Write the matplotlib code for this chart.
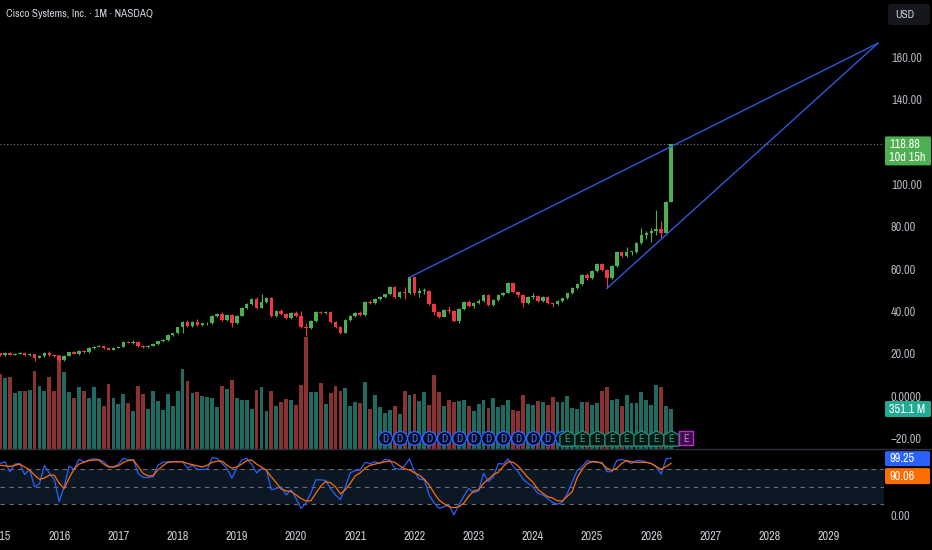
import matplotlib
matplotlib.use("Agg")
import matplotlib.pyplot as plt
from matplotlib.transforms import IdentityTransform, blended_transform_factory
from matplotlib.patches import FancyBboxPatch
from matplotlib.lines import Line2D
from matplotlib.path import Path

plt.rcParams['font.family'] = ['Liberation Sans Narrow', 'Archivo Narrow', 'Asap Condensed',
                               'Liberation Sans', 'DejaVu Sans']

# ---- data (month index 0 = Jan 2015) ----
months = list(range(0, 137))
first_open = 20.2
closes = [19.4,
          20.3, 19.5, 20.0, 20.4, 19.4, 19.8, 18.0, 18.9, 20.5, 19.2, 18.7, 17.0,
          19.0, 20.7, 20.1, 21.3, 20.6, 22.7, 23.3, 23.5, 22.8, 22.0, 22.8, 23.2,
          25.7, 25.3, 25.6, 23.5, 23.0, 23.8, 24.5, 25.8, 26.4, 28.8, 29.6, 32.4,
          35.1, 33.1, 35.1, 33.4, 34.3, 34.5, 37.8, 38.7, 35.9, 38.3, 34.3, 37.9,
          41.6, 43.5, 45.7, 41.7, 44.4, 46.1, 37.8, 40.3, 38.7, 36.7, 39.4, 37.8,
          32.4, 32.2, 35.6, 39.8, 39.4, 39.6, 35.1, 32.7, 29.9, 35.9, 37.8, 39.1,
          38.3, 44.6, 43.8, 45.7, 46.9, 48.0, 51.6, 46.9, 49.3, 48.6, 56.1, 48.5,
          49.5, 49.8, 43.3, 39.8, 37.5, 40.6, 40.3, 35.4, 40.9, 44.6, 42.6, 43.8,
          45.0, 47.7, 43.0, 45.3, 47.7, 48.8, 53.2, 49.3, 47.7, 43.8, 46.9, 47.2,
          45.0, 46.9, 44.1, 43.6, 45.0, 46.1, 48.5, 50.9, 52.9, 57.2, 55.6, 59.0,
          62.2, 59.5, 55.6, 61.4, 67.9, 66.1, 67.9, 68.2, 72.1, 76.1, 76.8, 78.1,
          78.9, 77.1, 91.8, 118.88]
highs = [20.5,
         20.8, 20.6, 20.4, 20.9, 20.6, 20.3, 20.0, 19.3, 21.0, 21.3, 19.6, 18.9,
         19.4, 21.0, 21.1, 21.6, 21.8, 23.0, 23.7, 24.0, 23.8, 23.1, 23.2, 23.6,
         26.0, 26.2, 26.5, 26.2, 23.9, 24.2, 24.9, 26.1, 26.8, 29.1, 30.0, 32.8,
         35.6, 36.0, 35.5, 36.2, 34.7, 35.0, 38.3, 39.3, 39.5, 38.8, 38.9, 38.3,
         42.0, 43.9, 46.3, 46.6, 48.1, 47.0, 46.6, 40.7, 41.0, 39.2, 39.8, 40.0,
         40.2, 34.3, 36.1, 40.3, 40.4, 40.1, 40.0, 35.6, 33.1, 36.3, 38.3, 39.6,
         40.3, 45.0, 45.2, 46.1, 47.3, 48.4, 52.0, 52.2, 49.8, 51.3, 56.1, 56.6,
         50.9, 51.0, 50.2, 43.8, 40.3, 41.0, 42.6, 40.8, 41.4, 45.0, 45.4, 44.5,
         45.8, 48.2, 48.2, 45.8, 48.1, 49.3, 53.8, 53.5, 49.8, 48.2, 47.3, 48.9,
         47.8, 47.3, 47.3, 44.6, 45.4, 46.5, 48.9, 51.3, 53.3, 57.7, 58.0, 59.5,
         62.7, 63.0, 60.0, 62.0, 68.4, 68.3, 70.4, 68.7, 73.0, 79.3, 78.2, 79.2,
         87.9, 82.8, 92.2, 119.0]
lows = [19.0,
        19.1, 19.2, 19.3, 19.8, 19.1, 19.0, 16.8, 17.8, 18.6, 18.9, 18.4, 16.2,
        16.5, 18.8, 19.8, 19.4, 20.3, 20.4, 22.3, 23.0, 22.4, 21.7, 21.6, 22.5,
        23.0, 25.0, 24.6, 23.0, 22.6, 22.7, 23.6, 24.3, 25.5, 26.2, 28.4, 29.4,
        29.8, 32.6, 32.5, 33.0, 33.0, 33.6, 34.2, 37.3, 35.4, 35.3, 32.4, 34.0,
        37.6, 41.2, 43.1, 41.3, 41.4, 44.0, 37.3, 37.2, 38.2, 36.3, 36.4, 37.4,
        32.0, 28.6, 31.8, 35.0, 38.6, 38.7, 34.6, 32.3, 29.5, 29.8, 35.4, 37.4,
        37.8, 38.0, 43.3, 43.4, 45.3, 46.5, 47.7, 46.5, 46.5, 46.0, 48.3, 47.9,
        47.0, 48.3, 42.8, 38.1, 37.0, 37.2, 39.4, 34.8, 34.5, 40.5, 42.2, 41.8,
        43.3, 44.6, 42.5, 42.6, 45.0, 47.2, 48.5, 48.6, 47.0, 42.0, 43.4, 46.0,
        44.6, 44.5, 43.7, 42.0, 43.2, 44.6, 45.7, 48.1, 50.5, 52.5, 55.0, 55.3,
        58.6, 59.0, 50.9, 55.2, 61.0, 65.6, 65.5, 66.8, 67.8, 72.0, 74.0, 72.8,
        76.2, 74.9, 76.8, 91.5]
volumes_m = [658,
             621, 630, 492, 512, 509, 521, 687, 556, 512, 630, 507, 825,
             679, 498, 445, 542, 507, 445, 547, 445, 375, 571, 445, 395,
             480, 407, 331, 551, 483, 351, 512, 419, 342, 483, 380, 507,
             702, 597, 494, 503, 468, 454, 445, 371, 551, 527, 608, 445,
             430, 433, 351, 518, 542, 331, 512, 380, 410, 439, 430, 386,
             565, 983, 498, 498, 577, 395, 489, 556, 512, 533, 380, 410,
             404, 586, 351, 474, 366, 316, 345, 375, 305, 512, 474, 483,
             424, 503, 389, 650, 498, 375, 433, 410, 424, 430, 380, 336,
             395, 430, 357, 448, 366, 386, 430, 345, 336, 474, 395, 386,
             424, 410, 389, 454, 410, 410, 463, 357, 351, 415, 415, 386,
             401, 507, 547, 433, 439, 380, 474, 404, 404, 498, 430, 386,
             562, 542, 375, 351.1]
stoch_k = [90,
           93, 76, 89, 90, 71, 80, 50, 55, 87, 73, 63, 25,
           50, 86, 80, 97, 93, 96, 98, 97, 93, 85, 84, 89,
           99, 96, 97, 73, 66, 66, 67, 87, 92, 93, 93, 93,
           93, 82, 87, 80, 80, 80, 100, 99, 90, 82, 65, 82,
           96, 99, 89, 74, 81, 79, 45, 47, 50, 36, 45, 30,
           13, 22, 39, 62, 62, 61, 47, 36, 28, 50, 74, 78,
           79, 92, 90, 93, 90, 97, 96, 82, 80, 86, 98, 76,
           63, 62, 36, 22, 13, 16, 19, 2, 19, 34, 47, 40,
           43, 73, 59, 67, 90, 89, 98, 85, 76, 63, 56, 50,
           39, 36, 30, 23, 20, 24, 39, 59, 78, 85, 95, 93,
           92, 92, 76, 76, 95, 97, 94, 90, 95, 95, 92, 90,
           84, 72, 98, 99.25]
stoch_d = [87,
           86, 85, 87, 89, 84, 79, 70, 63, 65, 70, 70, 56,
           47, 65, 80, 89, 92, 95, 96, 96, 89, 84, 84, 86,
           92, 95, 96, 85, 73, 69, 69, 79, 86, 92, 93, 93,
           93, 90, 88, 86, 84, 87, 92, 94, 94, 87, 82, 84,
           89, 95, 96, 89, 84, 78, 67, 57, 46, 43, 42, 36,
           30, 26, 26, 39, 51, 59, 57, 50, 38, 45, 56, 69,
           74, 82, 87, 89, 91, 93, 94, 92, 86, 81, 79, 74,
           70, 63, 53, 39, 27, 21, 16, 14, 16, 22, 34, 43,
           45, 56, 63, 71, 75, 85, 93, 92, 86, 76, 66, 58,
           46, 39, 33, 31, 26, 26, 34, 42, 66, 80, 90, 93,
           93, 90, 82, 78, 82, 90, 95, 93, 92, 92, 92, 90,
           85, 80, 85, 90.06]
years = list(range(2015, 2030))
price_ticks = [160, 140, 100, 80, 60, 40, 20, 0, -20]
price_tick_labels = ['160.00', '140.00', '100.00', '80.00', '60.00', '40.00', '20.00', '0.0000', '\u221220.00']
dividend_months = [78, 81, 84, 87, 90, 93, 96, 99, 102, 105, 108, 111, 114]
earnings_months = [115, 118, 121, 124, 127, 130, 133, 136]
next_earnings_months = [139]
trend_upper = ([83, 177.95], [56.1, 166.7])
trend_lower = ([123, 177.95], [50.9, 166.7])
countdown = '10d 15h'

# ---- layout (pixels) ----
W, H = 932, 550
PLOT_R = 884
MAIN_BOT = 449
IND_BOT = 527
PX_PER_M = 4.934
TXT = '#b2b5be'
FS = 8.8
UP, DOWN = '#4caf50', '#f23645'
VUP, VDOWN = '#1f6b61', '#8a3232'

fig = plt.figure(figsize=(W / 100, H / 100), dpi=100, facecolor='black')
ax = fig.add_axes([0, 1 - MAIN_BOT / H, PLOT_R / W, MAIN_BOT / H])
ax_vol = ax.twinx()
ax_st = fig.add_axes([0, 1 - IND_BOT / H, PLOT_R / W, (IND_BOT - MAIN_BOT) / H], sharex=ax)

for a in (ax, ax_vol, ax_st):
    a.set_facecolor('none')
    for s in a.spines.values():
        s.set_visible(False)
ax.set_zorder(ax_vol.get_zorder() + 1)

ax.set_xlim(0, PLOT_R / PX_PER_M)
ax.set_ylim(-25.0, 187.1)
ax_vol.set_ylim(0, MAIN_BOT * 8.78)
ax_st.set_ylim(-18.9, 114.9)

# candles
opens = [first_open] + closes[:-1]
up = [c >= o for o, c in zip(opens, closes)]
cols = [UP if u else DOWN for u in up]
ax.vlines(months, lows, highs, colors=cols, lw=0.8, zorder=3)
bottoms = [min(o, c) for o, c in zip(opens, closes)]
heights = [max(abs(c - o), 0.45) for o, c in zip(opens, closes)]
ax.bar(months, heights, bottom=bottoms, width=0.72, color=cols, linewidth=0, zorder=4)

# volume
ax_vol.bar(months, volumes_m, width=0.78, color=[VUP if u else VDOWN for u in up], linewidth=0)

# last price line and trend lines
ax.axhline(closes[-1], color='#787b86', lw=0.8, ls=(0, (1, 2)), zorder=2)
ax.plot(trend_upper[0], trend_upper[1], color='#3158dc', lw=1.0, zorder=5)
ax.plot(trend_lower[0], trend_lower[1], color='#3158dc', lw=1.0, zorder=5)

# event markers
ev_y = -19.8
ax.scatter(dividend_months, [ev_y] * len(dividend_months), s=100, marker='o',
           facecolor='#060b22', edgecolor='#2962ff', linewidths=1.0, zorder=6)
for m in dividend_months:
    ax.text(m, ev_y - 0.3, 'D', color='#4f7dff', fontsize=7.5, ha='center', va='center', zorder=7)
house = Path([(-1, -1), (1, -1), (1, 0.45), (0, 1), (-1, 0.45), (-1, -1)],
             [Path.MOVETO, Path.LINETO, Path.LINETO, Path.LINETO, Path.LINETO, Path.CLOSEPOLY])
ax.scatter(earnings_months, [ev_y] * len(earnings_months), s=120, marker=house,
           facecolor='#04140f', edgecolor='#1f8e7b', linewidths=1.0, zorder=8)
for m in earnings_months:
    ax.text(m, ev_y - 0.5, 'E', color='#2aa58f', fontsize=7.5, ha='center', va='center', zorder=9)
ax.scatter(next_earnings_months, [ev_y] * len(next_earnings_months), s=95, marker='s',
           facecolor='#3a0e45', edgecolor='#b52dd0', linewidths=1.0, zorder=8)
for m in next_earnings_months:
    ax.text(m, ev_y - 0.3, 'E', color='#d77cf0', fontsize=7.5, ha='center', va='center', zorder=9)

# price axis
ax.yaxis.tick_right()
ax.set_yticks(price_ticks)
ax.set_yticklabels(price_tick_labels)
ax.tick_params(axis='y', length=0, pad=5, labelcolor=TXT, labelsize=FS)
ax.tick_params(axis='x', bottom=False, labelbottom=False)
ax_vol.set_yticks([])
ax_vol.tick_params(axis='x', bottom=False, labelbottom=False)

# stoch rsi pane
ax_st.axhspan(20, 80, color='#0b1723', zorder=0, lw=0)
for lvl in (80, 50, 20):
    ax_st.axhline(lvl, color='#6b6e78', lw=0.8, ls=(0, (4, 4)), zorder=1)
ax_st.plot(months, stoch_k, color='#2962ff', lw=0.9, zorder=3)
ax_st.plot(months, stoch_d, color='#ff6d00', lw=0.9, zorder=4)
ax_st.yaxis.tick_right()
ax_st.set_yticks([0])
ax_st.set_yticklabels(['0.00'])
ax_st.tick_params(axis='y', length=0, pad=5, labelcolor=TXT, labelsize=FS)
ax_st.tick_params(axis='x', bottom=False, labelbottom=False)

# year labels
tr = blended_transform_factory(ax_st.transData, fig.transFigure)
for y in years:
    ax_st.text(12 * (y - 2015), 1 - 537 / H, str(y), transform=tr, color='#c5c8d0',
               fontsize=FS, ha='center', va='center', clip_on=False)

# pane separator
fig.add_artist(Line2D([0, 1], [1 - MAIN_BOT / H] * 2, color='#2f323c', lw=1.0))


def ypix(a, v):
    return H - a.transData.transform((0, v))[1]


def pbox(x0, y0, x1, y1, color, rounding=1.5, edge='none'):
    p = FancyBboxPatch((x0, H - y1), x1 - x0, y1 - y0,
                       boxstyle='round,pad=0,rounding_size=%s' % rounding,
                       transform=IdentityTransform(), facecolor=color, edgecolor=edge, lw=0.8)
    fig.add_artist(p)


def ptext(x, y, s, color='white', size=FS, ha='left'):
    fig.text(x, H - y, s, transform=IdentityTransform(), color=color, fontsize=size,
             ha=ha, va='center')


# title and currency
ptext(6, 14, 'Cisco Systems, Inc. \u00b7 1M \u00b7 NASDAQ', color='#d1d4dc', size=8.0)
pbox(888, 4, 930, 25, '#15171d', rounding=3)
ptext(895, 14.5, 'USD', color='#d1d4dc', size=8.0)

# last price label
yp = ypix(ax, closes[-1])
pbox(885, yp - 8, 931, yp + 21, '#4caf50')
ptext(889, yp, '%.2f' % closes[-1])
ptext(889, yp + 13, countdown)

# volume label
yv = H - ax_vol.transData.transform((0, volumes_m[-1]))[1]
pbox(885, yv - 8, 931, yv + 8, '#22ab94')
ptext(889, yv, '%.1f M' % volumes_m[-1])

# stoch labels
yk = ypix(ax_st, stoch_k[-1])
pbox(885, yk - 7, 930, yk + 8, '#2962ff')
ptext(889, yk + 0.5, '%.2f' % stoch_k[-1])
pbox(885, yk + 10, 930, yk + 26, '#ff6d00')
ptext(889, yk + 18, '%.2f' % stoch_d[-1])

fig.savefig('out.png', dpi=100, facecolor='black')
